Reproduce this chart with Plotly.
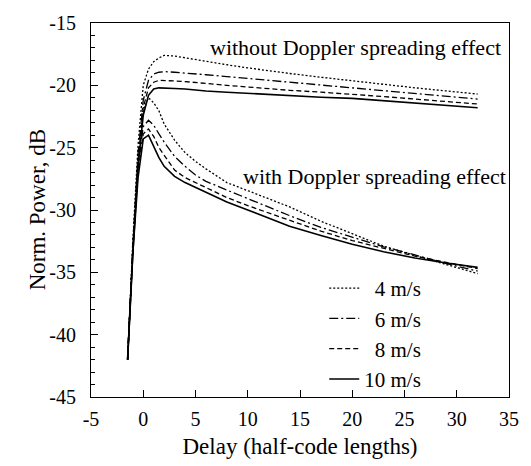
import plotly.graph_objects as go

delay = [-1.5, -1, -0.5, 0, 0.5, 1, 1.5, 2, 3, 4, 5, 6, 8, 10, 12, 14, 17, 20, 23, 26, 29, 32]

speeds = ["\u20074 m/s", "\u20076 m/s", "\u20078 m/s", "10 m/s"]

# without Doppler spreading effect
no_doppler_4 = [-42, -32.5, -24.8, -20.0, -18.7, -18.1, -17.8, -17.6, -17.65, -17.8, -17.95, -18.1, -18.35, -18.6, -18.85, -19.05, -19.35, -19.65, -19.95, -20.2, -20.45, -20.7]
no_doppler_6 = [-42, -33.0, -25.5, -21.2, -19.6, -19.1, -18.95, -18.9, -18.95, -19.0, -19.1, -19.15, -19.3, -19.45, -19.6, -19.75, -19.95, -20.15, -20.4, -20.6, -20.85, -21.1]
no_doppler_8 = [-42, -33.2, -26.0, -21.8, -20.2, -19.75, -19.6, -19.6, -19.65, -19.7, -19.8, -19.85, -20.0, -20.15, -20.3, -20.4, -20.55, -20.7, -20.9, -21.1, -21.3, -21.5]
no_doppler_10 = [-42, -33.5, -26.5, -22.4, -20.8, -20.3, -20.2, -20.2, -20.25, -20.3, -20.4, -20.45, -20.55, -20.65, -20.75, -20.85, -20.95, -21.05, -21.25, -21.45, -21.6, -21.8]

# with Doppler spreading effect
doppler_4 = [-42, -33.0, -26.0, -22.0, -21.0, -21.4, -22.05, -23.1, -24.4, -25.4, -26.1, -26.7, -27.8, -28.45, -29.1, -29.75, -30.9, -31.9, -32.9, -33.65, -34.4, -35.1]
doppler_6 = [-42, -33.2, -26.5, -23.3, -22.8, -23.2, -23.9, -24.55, -25.7, -26.5, -27.2, -27.7, -28.4, -29.1, -29.8, -30.45, -31.4, -32.2, -32.95, -33.6, -34.3, -34.9]
doppler_8 = [-42, -33.4, -27.0, -23.9, -23.5, -24.1, -25.0, -25.6, -26.8, -27.4, -27.8, -28.2, -29.0, -29.65, -30.25, -30.85, -31.7, -32.45, -33.1, -33.7, -34.2, -34.7]
doppler_10 = [-42, -33.5, -27.4, -24.3, -24.0, -24.9, -25.8, -26.5, -27.3, -27.8, -28.2, -28.6, -29.35, -30.0, -30.65, -31.3, -32.05, -32.75, -33.35, -33.85, -34.25, -34.6]

x_ticks = [-5, 0, 5, 10, 15, 20, 25, 30, 35]
x_ticktext = ["-5", "0", "5", "10", "15", "20", "25", "30", "35"]
y_ticks = [-45, -40, -35, -30, -25, -20, -15]
y_ticktext = ["-45", "-40", "-35", "-30", "-25", "-20", "-15"]

FONT = "'Liberation Serif', 'Times New Roman', serif"
dashes = ["2px,2px", "9px,3px,2px,3px", "5px,3px", "solid"]
widths = [1.3, 1.3, 1.3, 1.6]

fig = go.Figure()
no_dop = [no_doppler_4, no_doppler_6, no_doppler_8, no_doppler_10]
dop = [doppler_4, doppler_6, doppler_8, doppler_10]
for i, name in enumerate(speeds):
    fig.add_trace(go.Scatter(x=delay, y=no_dop[i], mode="lines", name=name,
                             legendgroup=name, showlegend=True,
                             line=dict(color="black", width=widths[i], dash=dashes[i])))
    fig.add_trace(go.Scatter(x=delay, y=dop[i], mode="lines", name=name,
                             legendgroup=name, showlegend=False,
                             line=dict(color="black", width=widths[i], dash=dashes[i])))

fig.add_annotation(x=20.3, y=-17.0, xref="x", yref="y", text="without Doppler spreading effect",
                   showarrow=False, font=dict(family=FONT, size=22, color="black"))
fig.add_annotation(x=22.1, y=-27.3, xref="x", yref="y", text="with Doppler spreading effect",
                   showarrow=False, font=dict(family=FONT, size=22, color="black"))
fig.add_annotation(x=-0.163, y=0.5, xref="paper", yref="paper", text="Norm. Power, dB",
                   textangle=-90, showarrow=False, font=dict(family=FONT, size=23, color="black"))

fig.update_layout(
    width=531, height=466,
    margin=dict(l=91, r=13, t=13, b=69),
    paper_bgcolor="white", plot_bgcolor="white",
    font=dict(family=FONT, size=20, color="black"),
    legend=dict(x=0.558, y=0.345, xanchor="left", yanchor="top",
                bgcolor="rgba(0,0,0,0)", font=dict(family=FONT, size=21),
                tracegroupgap=0, itemwidth=30),
)
fig.update_xaxes(range=[-5, 35], tickvals=x_ticks, ticktext=x_ticktext,
                 ticks="inside", ticklen=7, tickcolor="black", showgrid=False, zeroline=False,
                 showline=True, linecolor="black", linewidth=1, mirror=True,
                 ticklabelstandoff=4,
                 title=dict(text="Delay (half-code lengths)", font=dict(family=FONT, size=23), standoff=8))
fig.update_yaxes(range=[-45, -15], tickvals=y_ticks, ticktext=y_ticktext,
                 ticks="inside", ticklen=7, tickcolor="black", showgrid=False, zeroline=False,
                 showline=True, linecolor="black", linewidth=1, mirror=True,
                 ticklabelstandoff=10,
                 minor=dict(dtick=1, ticks="inside", ticklen=4, tickcolor="black", showgrid=False))

fig.write_html("out.html")
